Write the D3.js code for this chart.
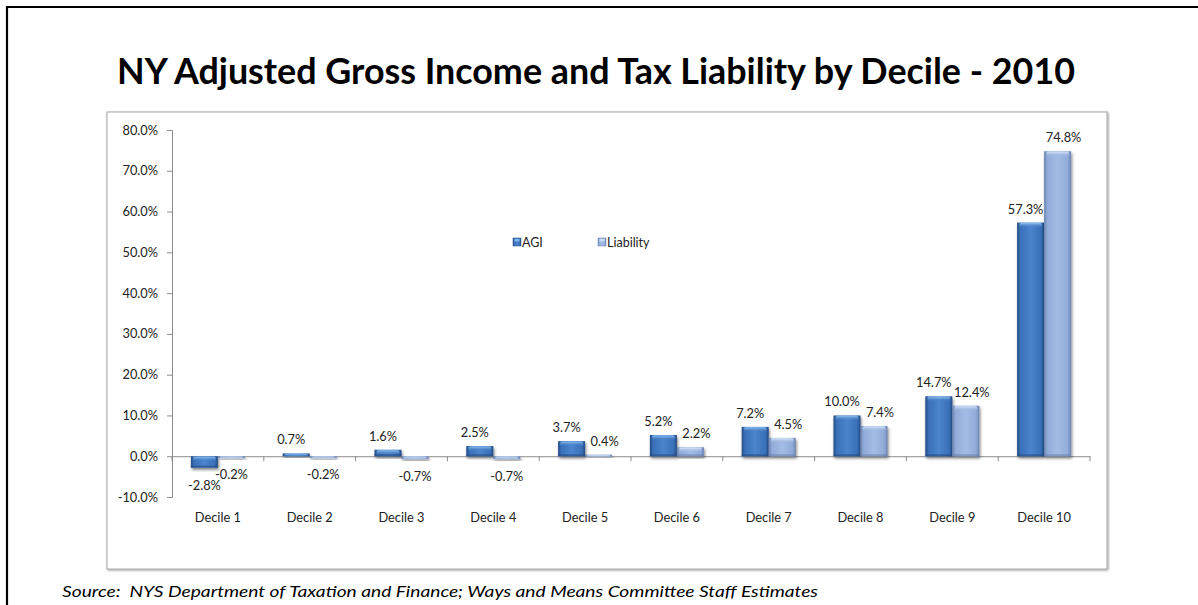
<!DOCTYPE html>
<html>
<head>
<meta charset="utf-8">
<script src="https://cdn.jsdelivr.net/npm/d3@7/dist/d3.min.js"></script>
<style>
  html, body { margin: 0; padding: 0; background: #fff; }
  svg { display: block; }
</style>
</head>
<body>
<svg id="chart" width="1198" height="605"></svg>
<script>
// Share of adjusted gross income and tax liability by income decile, NY 2010
const categories = ["Decile 1", "Decile 2", "Decile 3", "Decile 4", "Decile 5",
                    "Decile 6", "Decile 7", "Decile 8", "Decile 9", "Decile 10"];
const agiValues = [-0.028, 0.007, 0.016, 0.025, 0.037, 0.052, 0.072, 0.100, 0.147, 0.573];
const liabilityValues = [-0.002, -0.002, -0.007, -0.007, 0.004, 0.022, 0.045, 0.074, 0.124, 0.748];
const seriesNames = ["AGI", "Liability"];
const yTicks = [-0.1, 0, 0.1, 0.2, 0.3, 0.4, 0.5, 0.6, 0.7, 0.8];

const titleText = "NY Adjusted Gross Income and Tax Liability by Decile - 2010";
const sourceText = "Source:  NYS Department of Taxation and Finance; Ways and Means Committee Staff Estimates";

const rows = categories.map((c, i) => ({
  category: c,
  values: [
    { series: "AGI", value: agiValues[i] },
    { series: "Liability", value: liabilityValues[i] }
  ]
}));

const svg = d3.select("#chart");
const font = "Lato, 'Open Sans', 'DejaVu Sans', sans-serif";
const fmt = d3.format(".1%");
const pct = v => fmt(v).replace("\u2212", "-");

// ---- gradients & filters ----
const defs = svg.append("defs");
const palette = {
  AGI:       { edge: "#234b84", mid: "#3a70b8", light: "#4a84cc", hi: "#8cc0f2" },
  Liability: { edge: "#6a82b0", mid: "#91acd9", light: "#a2bce5", hi: "#d6e6fa" }
};
seriesNames.forEach(s => {
  const p = palette[s];
  const g = defs.append("linearGradient").attr("id", "body-" + s)
    .attr("x1", "0").attr("x2", "1").attr("y1", "0").attr("y2", "0");
  g.append("stop").attr("offset", "0%").attr("stop-color", p.edge);
  g.append("stop").attr("offset", "12%").attr("stop-color", p.mid);
  g.append("stop").attr("offset", "50%").attr("stop-color", p.light);
  g.append("stop").attr("offset", "88%").attr("stop-color", p.mid);
  g.append("stop").attr("offset", "100%").attr("stop-color", p.edge);
  const h = defs.append("linearGradient").attr("id", "cap-" + s)
    .attr("x1", "0").attr("x2", "0").attr("y1", "0").attr("y2", "1");
  h.append("stop").attr("offset", "0%").attr("stop-color", p.hi);
  h.append("stop").attr("offset", "100%").attr("stop-color", p.mid).attr("stop-opacity", 0);
});
const shadow = defs.append("filter").attr("id", "barShadow")
  .attr("x", "-30%").attr("y", "-30%").attr("width", "160%").attr("height", "160%");
shadow.append("feGaussianBlur").attr("in", "SourceAlpha").attr("stdDeviation", 1.8).attr("result", "b");
shadow.append("feOffset").attr("in", "b").attr("dx", 1).attr("dy", 2).attr("result", "o");
shadow.append("feComponentTransfer").attr("in", "o").attr("result", "s")
  .append("feFuncA").attr("type", "linear").attr("slope", 0.5);
const merge = shadow.append("feMerge");
merge.append("feMergeNode").attr("in", "s");
merge.append("feMergeNode").attr("in", "SourceGraphic");

const boxShadow = defs.append("filter").attr("id", "boxShadow")
  .attr("x", "-2%").attr("y", "-2%").attr("width", "104%").attr("height", "106%");
boxShadow.append("feGaussianBlur").attr("in", "SourceAlpha").attr("stdDeviation", 1).attr("result", "b");
boxShadow.append("feOffset").attr("in", "b").attr("dx", 1).attr("dy", 1).attr("result", "o");
boxShadow.append("feComponentTransfer").attr("in", "o").attr("result", "s")
  .append("feFuncA").attr("type", "linear").attr("slope", 0.4);
const bm = boxShadow.append("feMerge");
bm.append("feMergeNode").attr("in", "s");
bm.append("feMergeNode").attr("in", "SourceGraphic");

// ---- page frame ----
svg.append("line").attr("x1", 7).attr("x2", 1198).attr("y1", 7).attr("y2", 7)
  .attr("stroke", "#000").attr("stroke-width", 2.2);
svg.append("line").attr("x1", 7).attr("x2", 7).attr("y1", 6).attr("y2", 605)
  .attr("stroke", "#000").attr("stroke-width", 2.2);

// ---- title ----
svg.append("text")
  .attr("x", 596).attr("y", 84)
  .attr("text-anchor", "middle")
  .attr("font-family", font).attr("font-weight", 700).attr("font-size", 36)
  .attr("textLength", 958).attr("lengthAdjust", "spacingAndGlyphs")
  .attr("fill", "#000")
  .text(titleText);

// ---- chart box ----
svg.append("rect")
  .attr("x", 107).attr("y", 112).attr("width", 1000).attr("height", 457)
  .attr("fill", "#fff").attr("stroke", "#a6a6a6").attr("stroke-width", 1)
  .attr("filter", "url(#boxShadow)");

// ---- scales ----
const y = d3.scaleLinear().domain([-0.1, 0.8]).range([497, 130]);
const x0 = d3.scaleBand().domain(categories).range([172, 1090]).paddingInner(0).paddingOuter(0);
const x1 = d3.scaleBand().domain(seriesNames).range([0, x0.bandwidth()])
  .paddingInner(0).paddingOuter(0.7);

const axisColor = "#8c8c8c";

// y axis
const yAxis = d3.axisLeft(y).tickValues(yTicks).tickFormat(pct).tickSize(5).tickPadding(9);
const gy = svg.append("g").attr("transform", "translate(172,0)").call(yAxis);
gy.select(".domain").attr("stroke", axisColor);
gy.selectAll(".tick line").attr("stroke", axisColor);
gy.selectAll(".tick text")
  .attr("font-family", font).attr("font-size", 12.8).attr("fill", "#222");

// x axis along zero
const xAxis = d3.axisBottom(x0).tickSize(0).tickFormat("");
const gx = svg.append("g").attr("transform", `translate(0,${y(0)})`).call(xAxis);
gx.select(".domain").attr("stroke", axisColor);
gx.selectAll(".tick").remove();
// category separators
const seps = d3.range(categories.length + 1).map(i => 172 + i * x0.step());
gx.selectAll("line.sep").data(seps).join("line").attr("class", "sep")
  .attr("x1", d => d).attr("x2", d => d).attr("y1", 0).attr("y2", 5)
  .attr("stroke", axisColor);

// category labels
svg.append("g").selectAll("text").data(categories).join("text")
  .attr("x", d => x0(d) + x0.bandwidth() / 2)
  .attr("y", 522)
  .attr("text-anchor", "middle")
  .attr("font-family", font).attr("font-size", 12.8).attr("fill", "#222")
  .text(d => d);

// ---- bars ----
const groups = svg.append("g").selectAll("g").data(rows).join("g")
  .attr("transform", d => `translate(${x0(d.category)},0)`);

const bar = groups.selectAll("g.bar").data(d => d.values).join("g").attr("class", "bar");
const bw = x1.bandwidth();
bar.each(function(d) {
  const g = d3.select(this);
  const top = Math.min(y(d.value), y(0));
  const h = Math.max(Math.abs(y(d.value) - y(0)), 2);
  const bx = x1(d.series);
  const inner = g.append("g").attr("filter", "url(#barShadow)");
  inner.append("rect")
    .attr("x", bx).attr("y", top).attr("width", bw).attr("height", h)
    .attr("fill", `url(#body-${d.series})`);
  // beveled highlight at the cap
  const capH = Math.min(5, h);
  inner.append("rect")
    .attr("x", bx + 2).attr("y", top + 0.5).attr("width", bw - 4).attr("height", capH)
    .attr("rx", 2)
    .attr("fill", `url(#cap-${d.series})`);
  // darker base edge
  if (h > 4) {
    inner.append("rect")
      .attr("x", bx).attr("y", top + h - 2).attr("width", bw).attr("height", 2)
      .attr("fill", palette[d.series].edge).attr("opacity", 0.6);
  }
});

// data labels: positive labels sit above the bar, nudged apart; negative ones below
const labelShift = { AGI: -5, Liability: 6 };
bar.append("text")
  .attr("x", d => x1(d.series) + bw / 2 + (d.value >= 0 ? labelShift[d.series] : 0))
  .attr("y", d => d.value >= 0 ? y(d.value) - 9 : y(d.value) + 22)
  .attr("text-anchor", "middle")
  .attr("font-family", font).attr("font-size", 12.8).attr("fill", "#222")
  .text(d => pct(d.value));

// ---- legend ----
const legend = svg.append("g");
const legendItems = [
  { name: "AGI", x: 513 },
  { name: "Liability", x: 598 }
];
legendItems.forEach(it => {
  const p = palette[it.name];
  legend.append("rect").attr("x", it.x).attr("y", 238).attr("width", 8).attr("height", 8)
    .attr("fill", `url(#body-${it.name})`).attr("stroke", p.edge).attr("stroke-width", 0.5);
  legend.append("rect").attr("x", it.x + 1.5).attr("y", 239).attr("width", 5).attr("height", 2.5)
    .attr("fill", p.hi).attr("opacity", 0.8);
  legend.append("text").attr("x", it.x + 9).attr("y", 246.5)
    .attr("font-family", font).attr("font-size", 12.5).attr("fill", "#222")
    .text(it.name);
});

// ---- source note ----
svg.append("text")
  .attr("x", 62).attr("y", 597)
  .attr("font-family", font).attr("font-style", "italic").attr("font-size", 16)
  .attr("textLength", 756).attr("lengthAdjust", "spacingAndGlyphs")
  .attr("fill", "#000")
  .style("white-space", "pre")
  .text(sourceText);
</script>
</body>
</html>
